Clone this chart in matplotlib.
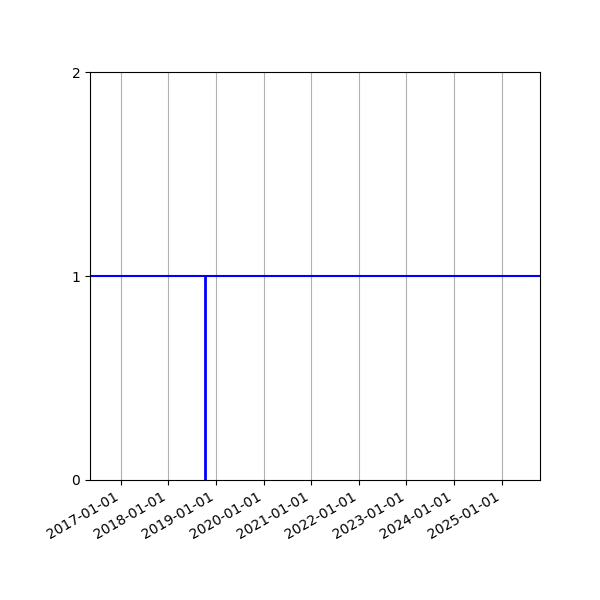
import numpy as np
import matplotlib
matplotlib.use("Agg")
import matplotlib.pyplot as plt
import matplotlib.dates as mdates

# level series and the single event
level_dates = np.array(["2016-05-10", "2025-10-22"], dtype="datetime64[D]")
level_values = [1, 1]
event_dates = np.array(["2018-10-10"], dtype="datetime64[D]")
event_values = [1]

tick_years = list(range(2017, 2026))
y_ticks = [0, 1, 2]

fig, ax = plt.subplots(figsize=(6, 6), dpi=100)
fig.subplots_adjust(left=0.15, right=0.9, bottom=0.2, top=0.88)

ax.plot(level_dates, level_values, color="blue", linewidth=1.5)
ax.vlines(event_dates, 0, event_values, color="blue", linewidth=2)

ax.set_xlim(level_dates[0], level_dates[-1])
ax.set_ylim(0, 2)
ax.set_yticks(y_ticks)
ax.set_xticks([np.datetime64(f"{y}-01-01") for y in tick_years])
ax.xaxis.set_major_formatter(mdates.DateFormatter("%Y-%m-%d"))
ax.grid(True, axis="x")
fig.autofmt_xdate()

fig.savefig("out.png")
